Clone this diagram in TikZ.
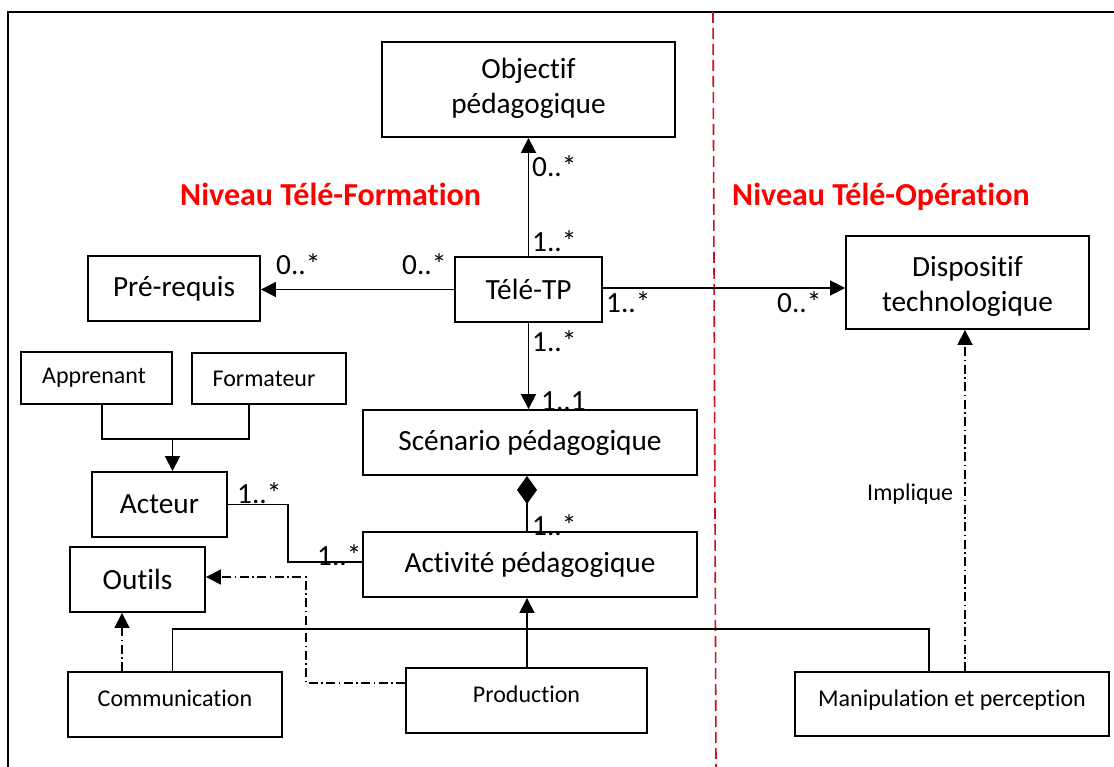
\documentclass[tikz,border=0pt]{standalone}
\usepackage{fontspec}
\setmainfont{Carlito}[Ligatures={NoCommon}]
\usetikzlibrary{arrows.meta,calc}
\definecolor{titlered}{RGB}{255,0,0}
\definecolor{sepred}{RGB}{200,16,30}
\newcommand\fmain{\fontsize{29.3}{35}\selectfont}
\newcommand\fsmall{\fontsize{24}{29}\selectfont}
\newcommand\ftitle{\fontsize{32}{36}\selectfont\bfseries}
\begin{document}
\begin{tikzpicture}[x=1pt,y=-1pt,
  box/.style={draw, line width=1.9pt, inner sep=0pt, align=center, font=\fmain},
  smallbox/.style={box, font=\fsmall},
  topbox/.style={smallbox, text depth=12pt},
  boxtext/.style={font=\fmain, inner sep=0pt, align=center},
  link/.style={line width=1.8pt},
  tip/.style={-{Triangle[length=15pt,width=15pt]}},
  arr/.style={link, tip},
  dashdot/.style={link, dash pattern=on 9pt off 3.5pt on 1.5pt off 3.5pt},
  mult/.style={font=\fmain, inner sep=0pt, anchor=base west},
  title/.style={font=\ftitle, text=titlered, inner sep=0pt, anchor=base west},
]
\useasboundingbox (0,0) rectangle (1114,767);

% outer frame and separation between the two levels
\draw[line width=1.7pt] (8,767) -- (8,12) -- (1114,12);
\draw[sepred, line width=1.6pt, dash pattern=on 11pt off 5pt] (713,12) -- (716,767);

% level titles
\node[title] (tform) at (180,206) {Niveau Télé-Formation};
\node[title] (toper) at (732,206) {Niveau Télé-Opération};

% classes
\node[box, minimum width=293pt, minimum height=95pt] (obj) at (528.5,89.5) {};
\node[boxtext] (objt) at ($(obj.center)+(0,-1)$) {Objectif\\pédagogique};
\node[box, minimum width=172pt, minimum height=65pt] (pre) at (174,288.5) {Pré-requis};
\node[box, minimum width=147pt, minimum height=65pt] (tp) at (528.5,289.5) {Télé-TP};
\node[box, minimum width=243pt, minimum height=93pt] (disp) at (967.5,282.5) {};
\node[boxtext] (dispt) at ($(disp.center)+(0,4)$) {Dispositif\\technologique};
\node[smallbox, minimum width=151pt, minimum height=52pt] (appr) at (96.5,378) {Apprenant\kern5pt};
\node[smallbox, minimum width=154pt, minimum height=51pt] (form) at (269,378.5) {Formateur\kern10pt};
\node[box, minimum width=135pt, minimum height=65pt] (act) at (159.5,504.5) {Acteur};
\node[box, minimum width=334pt, minimum height=65pt] (scen) at (530,442.5) {Scénario pédagogique};
\node[box, minimum width=334pt, minimum height=65pt] (activ) at (530,564.5) {Activité pédagogique};
\node[box, minimum width=135pt, minimum height=65pt] (outils) at (137.5,579.5) {Outils};
\node[topbox, minimum width=214pt, minimum height=65pt] (comm) at (175,704.5) {Communication};
\node[topbox, minimum width=241pt, minimum height=65pt] (prod) at (526.5,700.5) {Production};
\node[topbox, minimum width=314pt, minimum height=64pt] (manip) at (952,704) {Manipulation et perception};

% associations of Télé-TP
\draw[arr] (tp.north) -- (tp.north |- obj.south);
\draw[arr] (tp.west) -- (tp.west -| pre.east);
\draw[arr] ($(tp.east)+(0,-1.5)$) coordinate (te) -- (te -| disp.west);
\draw[arr] (tp.south) -- (tp.south |- scen.north);

% composition scenario / activities
\draw[link, {Diamond[length=28pt,width=20pt]}-] ($(scen.south)+(-3,0)$) coordinate (sc) -- (sc |- activ.north);

% actors
\coordinate (jact) at (172.5,439);
\draw[link] ($(appr.south)+(5.5,0)$) |- (jact) -| ($(form.south)+(-20,0)$);
\draw[arr] (jact) -- (jact |- act.north);
\draw[link] (act.east) -- ++(60,0) |- ($(activ.west)+(0,-2.5)$);

% kinds of activities
\coordinate (bar) at (528,629);
\draw[link] ($(comm.north)+(-2.5,0)$) |- (bar) -| ($(manip.north)+(-23,0)$);
\draw[arr] ($(prod.north)+(0.5,0)$) coordinate (pn) -- (pn |- activ.south);

% dependencies
\draw[dashdot, tip] ($(comm.north)+(-53,0)$) coordinate (cn) -- (cn |- outils.south);
\coordinate (kout) at (306,577);
\draw[dashdot, tip] ($(prod.west)+(0,-17.5)$) -| (kout) -- (kout -| outils.east);
\draw[dashdot, tip] ($(manip.north)+(13,0)$) coordinate (mn) -- (mn |- disp.south);
\node[font=\fsmall, inner sep=0pt, anchor=base west] (impl) at (867,500) {Implique};

% multiplicities
\node[mult] (m1) at (532,177) {0..*};
\node[mult] (m2) at (532,252) {1..*};
\node[mult] (m3) at (276,275) {0..*};
\node[mult] (m4) at (402,275) {0..*};
\node[mult] (m5) at (606,313) {1..*};
\node[mult] (m6) at (777,313) {0..*};
\node[mult] (m7) at (532,352) {1..*};
\node[mult] (m8) at (541,410) {1..1};
\node[mult] (m9) at (532,535) {1..*};
\node[mult] (m10) at (237,503) {1..*};
\node[mult] (m11) at (317,565) {1..*};
\end{tikzpicture}
\end{document}
